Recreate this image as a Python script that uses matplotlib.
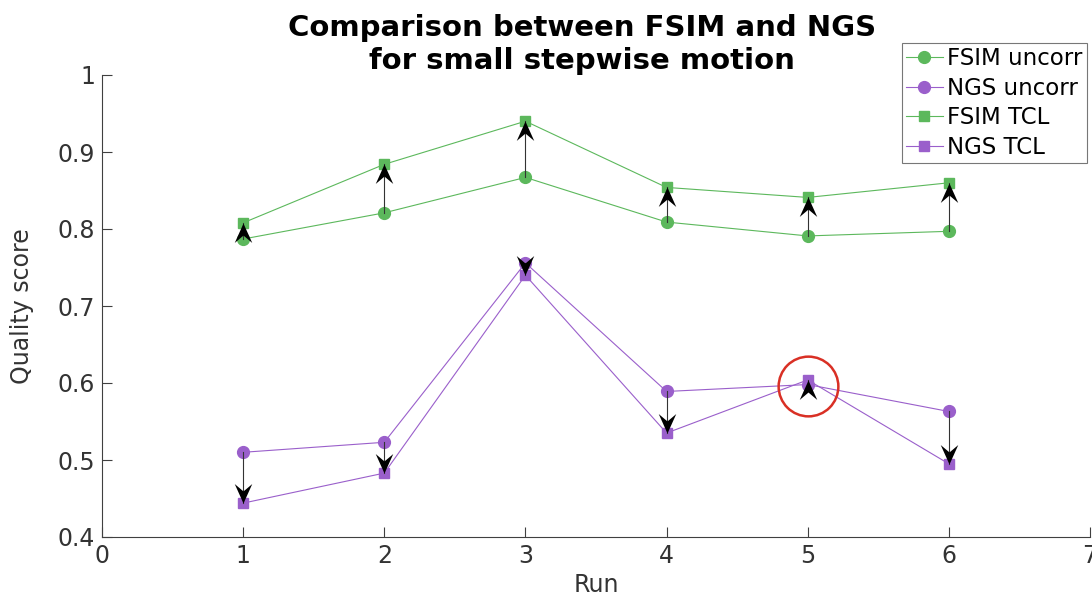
import matplotlib
matplotlib.use('Agg')
from matplotlib import pyplot
from matplotlib.path import Path

# data
runs = [1, 2, 3, 4, 5, 6]
fsim_uncorr = [0.787, 0.821, 0.867, 0.809, 0.791, 0.797]
ngs_uncorr = [0.510, 0.523, 0.756, 0.589, 0.598, 0.563]
fsim_tcl = [0.808, 0.884, 0.940, 0.854, 0.841, 0.860]
ngs_tcl = [0.444, 0.483, 0.740, 0.535, 0.604, 0.495]
highlight_run = 5
highlight_y = 0.596

GREEN = '#5cb85c'
PURPLE = '#9a5fcb'
AXCOL = '#404040'

pyplot.rcParams['font.family'] = ['DejaVu Sans']

# stealth arrow head, tip at the origin
head_up = Path([(0, 0), (-0.45, -1), (0, -0.62), (0.45, -1), (0, 0)],
               [Path.MOVETO, Path.LINETO, Path.LINETO, Path.LINETO, Path.CLOSEPOLY])
head_down = Path([(0, 0), (-0.45, 1), (0, 0.62), (0.45, 1), (0, 0)],
                 [Path.MOVETO, Path.LINETO, Path.LINETO, Path.LINETO, Path.CLOSEPOLY])

fig = pyplot.figure(figsize=(10.92, 5.98), dpi=100)
ax = fig.add_axes([102 / 1092, 1 - 537 / 598, (1090 - 102) / 1092, (537 - 75) / 598])

ax.plot(runs, fsim_uncorr, '-o', color=GREEN, lw=0.8, ms=8.5, label='FSIM uncorr')
ax.plot(runs, ngs_uncorr, '-o', color=PURPLE, lw=0.8, ms=8.5, label='NGS uncorr')
ax.plot(runs, fsim_tcl, '-s', color=GREEN, lw=0.8, ms=7, label='FSIM TCL')
ax.plot(runs, ngs_tcl, '-s', color=PURPLE, lw=0.8, ms=7, label='NGS TCL')

# arrows from uncorrected to corrected scores
for before, after in [(fsim_uncorr, fsim_tcl), (ngs_uncorr, ngs_tcl)]:
    for x, y0, y1 in zip(runs, before, after):
        ax.plot([x, x], [y0, y1], color='#333333', lw=0.8, zorder=4)
        ax.plot([x], [y1], marker=head_up if y1 > y0 else head_down,
                ms=28, color='black', mec='black', mew=0, zorder=5)

# red circle on run 5
ax.plot([highlight_run], [highlight_y], 'o', ms=43, mfc='none', mec='#d93025',
        mew=1.8, zorder=6)

ax.set_xlim(0, 7)
ax.set_ylim(0.4, 1.0)
ax.set_xticks(range(0, 8))
ax.set_yticks([0.4, 0.5, 0.6, 0.7, 0.8, 0.9, 1.0])
ax.set_yticklabels(['0.4', '0.5', '0.6', '0.7', '0.8', '0.9', '1'])
for side in ['top', 'right']:
    ax.spines[side].set_visible(False)
for side in ['left', 'bottom']:
    ax.spines[side].set_color(AXCOL)
    ax.spines[side].set_linewidth(0.8)
ax.tick_params(direction='in', length=7, width=0.8, colors=AXCOL,
               labelsize=17, labelcolor='#333333', pad=5)

ax.set_xlabel('Run', fontsize=17, color='#333333', labelpad=4)
ax.set_ylabel('Quality score', fontsize=17, color='#333333', labelpad=17)
ax.set_title('Comparison between FSIM and NGS\nfor small stepwise motion',
             fontsize=21, fontweight='bold', linespacing=1.25, pad=3, x=0.486)

leg = fig.legend(loc='upper left', bbox_to_anchor=(902 / 1092, 1 - 43 / 598),
                 fontsize=16.5, frameon=True, fancybox=False, borderaxespad=0,
                 handlelength=1.6, handletextpad=0.2, labelspacing=0.29,
                 borderpad=0.18)
leg.get_frame().set_edgecolor('#555555')
leg.get_frame().set_linewidth(0.8)

fig.savefig('out.png', dpi=100)
